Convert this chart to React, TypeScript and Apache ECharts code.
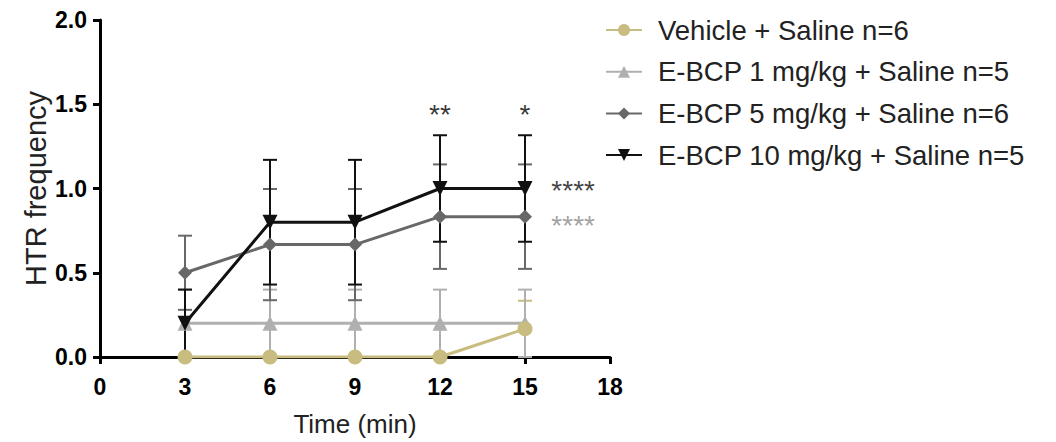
import React, { useEffect, useRef } from "react";
import * as echarts from "echarts";

const timePoints = [3, 6, 9, 12, 15];
const xTicks = [0, 3, 6, 9, 12, 15, 18];

const seriesNames = [
  "Vehicle + Saline n=6",
  "E-BCP 1 mg/kg + Saline n=5",
  "E-BCP 5 mg/kg + Saline n=6",
  "E-BCP 10 mg/kg + Saline n=5",
];

const vehicleMean = [0, 0, 0, 0, 0.167];
const vehicleSem = [0, 0, 0, 0, 0.167];
const ebcp1Mean = [0.2, 0.2, 0.2, 0.2, 0.2];
const ebcp1Sem = [0.2, 0.2, 0.2, 0.2, 0.2];
const ebcp5Mean = [0.5, 0.667, 0.667, 0.833, 0.833];
const ebcp5Sem = [0.22, 0.33, 0.33, 0.31, 0.31];
const ebcp10Mean = [0.2, 0.8, 0.8, 1.0, 1.0];
const ebcp10Sem = [0.2, 0.37, 0.37, 0.316, 0.316];

// significance annotations: [x, y, text]
const timeStars: [number, number, string][] = [
  [12, 1.44, "**"],
  [15, 1.44, "*"],
];
const groupStars: [number, number, string, string][] = [
  [16.7, 0.99, "****", "#111111"],
  [16.7, 0.78, "****", "#8a8a8a"],
];

const colors = ["#c8bc80", "#b0b0b0", "#686868", "#111111"];
const symbols = [
  "circle",
  "triangle",
  "diamond",
  "path://M0,0 L10,0 L5,9 Z",
];
const symbolSizes = [15, 15, 14, 15];

const means = [vehicleMean, ebcp1Mean, ebcp5Mean, ebcp10Mean];
const sems = [vehicleSem, ebcp1Sem, ebcp5Sem, ebcp10Sem];

const FONT = "Liberation Sans, Arial, sans-serif";

export default function App() {
  const ref = useRef<HTMLDivElement>(null);
  useEffect(() => {
    if (!ref.current) return;
    const chart = echarts.init(ref.current, undefined, { renderer: "svg" });

    const errorSeries = means.map((m, i) => ({
      type: "custom",
      name: seriesNames[i] + " err",
      z: 2 + i,
      silent: true,
      data: timePoints.map((t, j) => [t, m[j] - sems[i][j], m[j] + sems[i][j]]),
      renderItem: (params: any, api: any) => {
        const x = api.value(0);
        const lo = api.value(1);
        const hi = api.value(2);
        if (hi === lo) return { type: "group", children: [] };
        const pHi = api.coord([x, hi]);
        const pLo = api.coord([x, Math.max(lo, 0)]);
        const cw = 7;
        const st = { stroke: colors[i], lineWidth: 2 };
        return {
          type: "group",
          children: [
            { type: "line", shape: { x1: pHi[0], y1: pHi[1], x2: pLo[0], y2: pLo[1] }, style: st },
            { type: "line", shape: { x1: pHi[0] - cw, y1: pHi[1], x2: pHi[0] + cw, y2: pHi[1] }, style: st },
            { type: "line", shape: { x1: pLo[0] - cw, y1: pLo[1], x2: pLo[0] + cw, y2: pLo[1] }, style: st },
          ],
        };
      },
    }));

    const zOrder = [10, 7, 8, 9];
    const lineSeries = means.map((m, i) => ({
      type: "line",
      name: seriesNames[i],
      z: zOrder[i],
      data: timePoints.map((t, j) => [t, m[j]]),
      symbol: symbols[i],
      symbolSize: symbolSizes[i],
      showAllSymbol: true,
      lineStyle: { color: colors[i], width: 3 },
      itemStyle: { color: colors[i] },
      emphasis: { disabled: true },
    }));

    const starSeries = [
      {
        type: "scatter",
        z: 11,
        silent: true,
        symbolSize: 0,
        data: timeStars.map((s) => [s[0], s[1], s[2]]),
        label: {
          show: true,
          position: "inside",
          formatter: (p: any) => p.value[2],
          color: "#000",
          fontSize: 28,
          fontFamily: FONT,
        },
      },
      {
        type: "scatter",
        z: 11,
        silent: true,
        symbolSize: 0,
        data: groupStars.map((s) => ({
          value: [s[0], s[1], s[2]],
          label: { color: s[3] },
        })),
        label: {
          show: true,
          position: "inside",
          formatter: (p: any) => p.value[2],
          fontSize: 28,
          fontFamily: FONT,
        },
      },
    ];

    chart.setOption({
      animation: false,
      grid: { left: 100, right: 446, top: 20, bottom: 81, containLabel: false },
      legend: {
        orient: "vertical",
        left: 600,
        top: 11,
        itemWidth: 36,
        itemHeight: 15,
        itemGap: 13.7,
        data: seriesNames,
        selectedMode: false,
        textStyle: {
          fontSize: 27.5,
          fontFamily: FONT,
          color: "#222",
          lineHeight: 28,
          padding: [0, 0, 0, 11],
        },
      },
      xAxis: {
        type: "value",
        min: 0,
        max: 18,
        interval: 3,
        name: "Time (min)",
        nameLocation: "middle",
        nameGap: 54,
        nameTextStyle: { fontSize: 26, fontFamily: FONT, color: "#222" },
        axisLine: { show: true, lineStyle: { color: "#000", width: 3 } },
        axisTick: { show: true, length: 7, lineStyle: { color: "#000", width: 3 } },
        axisLabel: {
          fontSize: 23,
          fontWeight: "bold",
          fontFamily: FONT,
          color: "#000",
          margin: 18,
          formatter: (v: number) => (xTicks.includes(v) ? String(v) : ""),
        },
        splitLine: { show: false },
      },
      yAxis: {
        type: "value",
        min: 0,
        max: 2,
        interval: 0.5,
        name: "HTR frequency",
        nameLocation: "middle",
        nameGap: 50,
        nameTextStyle: { fontSize: 29, fontFamily: FONT, color: "#222" },
        axisLine: { show: true, lineStyle: { color: "#000", width: 3 } },
        axisTick: { show: true, length: 7, lineStyle: { color: "#000", width: 3 } },
        axisLabel: {
          fontSize: 23,
          fontWeight: "bold",
          fontFamily: FONT,
          color: "#000",
          margin: 13,
          formatter: (v: number) => v.toFixed(1),
        },
        splitLine: { show: false },
      },
      series: [...errorSeries, ...lineSeries, ...starSeries],
    });
    return () => chart.dispose();
  }, []);

  return (
    <div
      ref={ref}
      style={{ position: "absolute", left: 0, top: 0, width: 1056, height: 442 }}
    />
  );
}
